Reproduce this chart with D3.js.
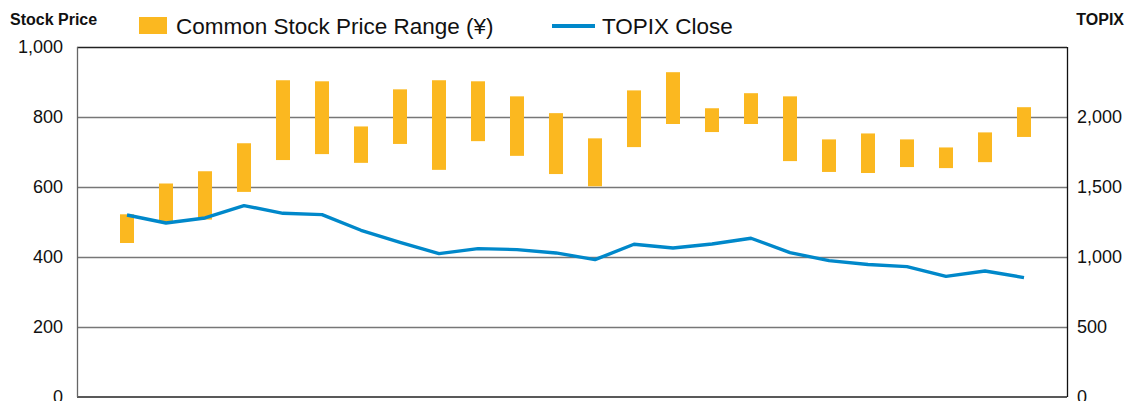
<!DOCTYPE html>
<html>
<head>
<meta charset="utf-8">
<script src="https://cdn.jsdelivr.net/npm/d3@7"></script>
<style>
  body { margin: 0; background: #fff; }
  text { font-family: "Liberation Sans", Arial, sans-serif; fill: #111; }
</style>
</head>
<body>
<div id="chart"></div>
<script>
// chart size = browser window
var svgWidth = 1126;
var svgHeight = 401;

var margin = { top: 47, right: 59, bottom: 4, left: 77 };
var width = svgWidth - margin.left - margin.right;
var height = svgHeight - margin.top - margin.bottom;

// data (24 periods)
var periods = d3.range(1, 25);
var priceHigh = [522, 610, 645, 725, 905, 902, 773, 879, 905, 902, 859, 811,
                 739, 876, 928, 825, 868, 859, 736, 753, 736, 713, 756, 828];
var priceLow = [440, 500, 507, 586, 677, 694, 669, 723, 649, 731, 689, 637,
                602, 714, 780, 757, 780, 674, 643, 640, 657, 654, 671, 743];
var topixClose = [1300, 1243, 1279, 1367, 1312, 1303, 1191, 1105, 1024, 1060, 1053, 1029,
                  981, 1091, 1064, 1093, 1134, 1031, 974, 946, 931, 862, 900, 853];
var leftTicks = [0, 200, 400, 600, 800, 1000];
var rightTicks = [0, 500, 1000, 1500, 2000];

var svg = d3.select("#chart")
  .append("svg")
  .attr("width", svgWidth)
  .attr("height", svgHeight);

var chartGroup = svg.append("g")
  .attr("transform", `translate(${margin.left}, ${margin.top})`);

// scales
var xScale = d3.scalePoint()
  .domain(periods)
  .range([50, 947]);

var yLeft = d3.scaleLinear().domain([0, 1000]).range([height, 0]);
var yRight = d3.scaleLinear().domain([0, 2500]).range([height, 0]);

// gridlines
chartGroup.selectAll(".grid")
  .data(leftTicks.filter(d => d > 0 && d < 1000))
  .enter()
  .append("line")
  .attr("x1", 0)
  .attr("x2", width)
  .attr("y1", d => Math.round(yLeft(d)) + 0.5)
  .attr("y2", d => Math.round(yLeft(d)) + 0.5)
  .attr("stroke", "#777")
  .attr("stroke-width", 1.3);

// frame
chartGroup.append("line")
  .attr("x1", 0).attr("x2", width).attr("y1", 0.5).attr("y2", 0.5)
  .attr("stroke", "#222").attr("stroke-width", 1.3);
chartGroup.append("line")
  .attr("x1", 0).attr("x2", width).attr("y1", height).attr("y2", height)
  .attr("stroke", "#222").attr("stroke-width", 1.5);
chartGroup.append("line")
  .attr("x1", 0.5).attr("x2", 0.5).attr("y1", 0).attr("y2", height)
  .attr("stroke", "#666").attr("stroke-width", 1.3);
chartGroup.append("line")
  .attr("x1", width + 0.5).attr("x2", width + 0.5).attr("y1", 0).attr("y2", height)
  .attr("stroke", "#111").attr("stroke-width", 1.3);

// left axis labels
var leftAxis = d3.axisLeft(yLeft).tickValues(leftTicks).tickSize(0).tickPadding(14)
  .tickFormat(d3.format(","));
var yAxisL = chartGroup.append("g").call(leftAxis);
yAxisL.select(".domain").remove();
yAxisL.selectAll("text")
  .attr("font-size", "18px")
  .attr("font-family", "Liberation Sans, Arial, sans-serif")
  .attr("fill", "#111");

// right axis labels
var rightAxis = d3.axisRight(yRight).tickValues(rightTicks).tickSize(0).tickPadding(10)
  .tickFormat(d3.format(","));
var yAxisR = chartGroup.append("g")
  .attr("transform", `translate(${width}, 0)`)
  .call(rightAxis);
yAxisR.select(".domain").remove();
yAxisR.selectAll("text")
  .attr("font-size", "18px")
  .attr("font-family", "Liberation Sans, Arial, sans-serif")
  .attr("fill", "#111");

// price range bars
var barW = 14;
chartGroup.selectAll(".bar")
  .data(periods)
  .enter()
  .append("rect")
  .attr("x", d => xScale(d) - barW / 2)
  .attr("y", (d, i) => yLeft(priceHigh[i]))
  .attr("width", barW)
  .attr("height", (d, i) => yLeft(priceLow[i]) - yLeft(priceHigh[i]))
  .attr("fill", "#FBB820");

// TOPIX line
var line = d3.line()
  .x((d, i) => xScale(periods[i]))
  .y(d => yRight(d));

chartGroup.append("path")
  .datum(topixClose)
  .attr("d", line)
  .attr("fill", "none")
  .attr("stroke", "#0088CA")
  .attr("stroke-width", 3.4)
  .attr("stroke-linejoin", "round");

// axis titles
svg.append("text")
  .attr("x", 10).attr("y", 25)
  .attr("font-size", "16px").attr("font-weight", "bold")
  .text("Stock Price");
svg.append("text")
  .attr("x", 1124).attr("y", 25)
  .attr("text-anchor", "end")
  .attr("font-size", "16px").attr("font-weight", "bold")
  .text("TOPIX");

// legend
var legend = svg.append("g");
legend.append("rect")
  .attr("x", 139).attr("y", 17).attr("width", 28).attr("height", 17)
  .attr("fill", "#FBB820");
legend.append("text")
  .attr("x", 176).attr("y", 34)
  .attr("font-size", "22.5px")
  .text("Common Stock Price Range (¥)");
legend.append("line")
  .attr("x1", 552).attr("x2", 595).attr("y1", 26).attr("y2", 26)
  .attr("stroke", "#0088CA").attr("stroke-width", 4);
legend.append("text")
  .attr("x", 602).attr("y", 34)
  .attr("font-size", "22.5px")
  .text("TOPIX Close");
</script>
</body>
</html>
